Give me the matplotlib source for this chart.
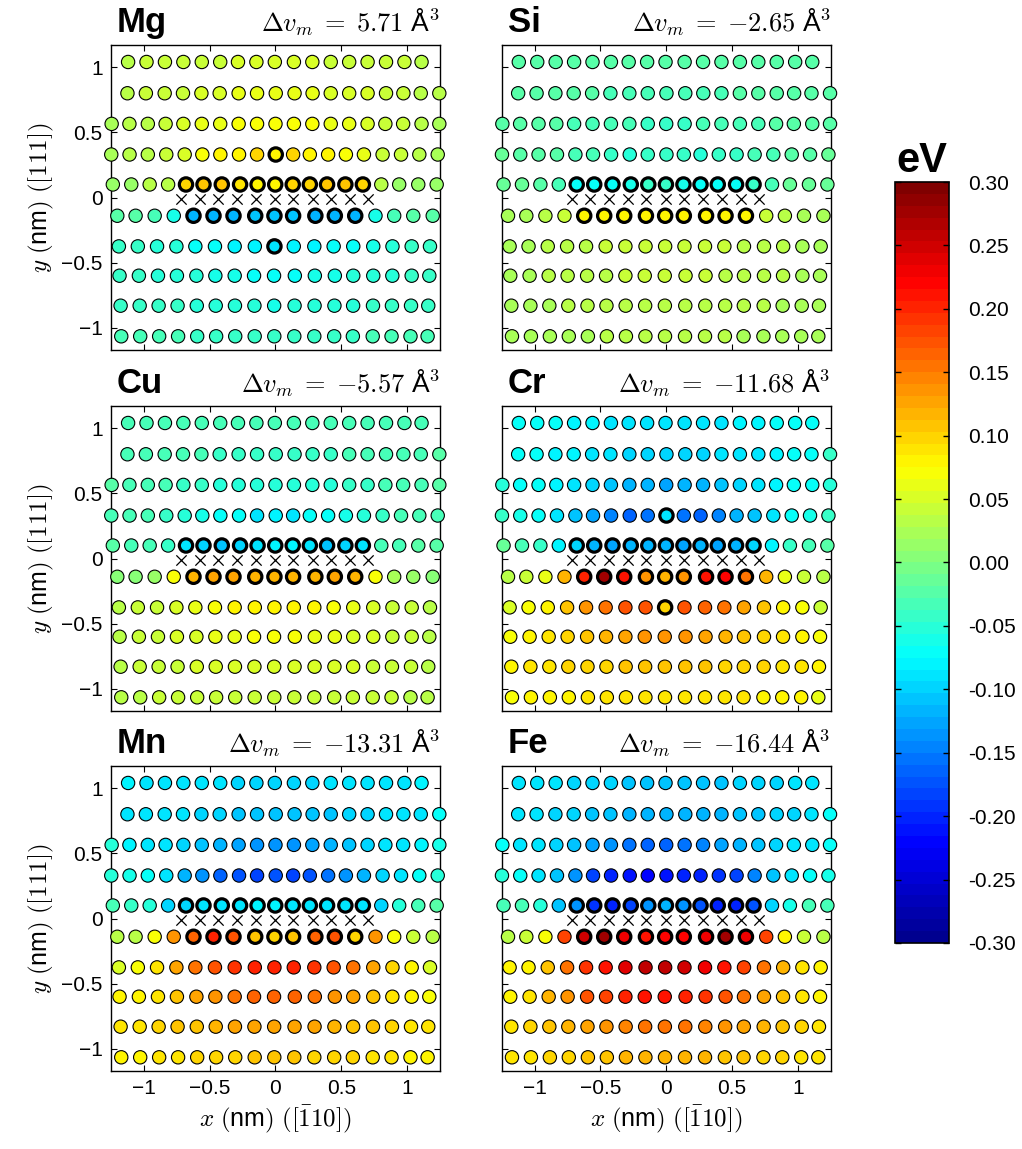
import numpy as np
import matplotlib
matplotlib.use("Agg")
from matplotlib import pyplot as plt
from matplotlib import ticker
from matplotlib.cm import ScalarMappable
from matplotlib.colors import Normalize, LinearSegmentedColormap

plt.rcParams['font.family'] = ['Liberation Sans', 'DejaVu Sans']
plt.rcParams['mathtext.fontset'] = 'cm'

# atom rows: heights (nm) and x positions (nm) along [-110]
row_y = [1.04, 0.80, 0.565, 0.33, 0.10, -0.14, -0.375, -0.60, -0.83, -1.065]
row_x = [
    [-1.12, -0.98, -0.84, -0.70, -0.56, -0.42, -0.285, -0.145, -0.005, 0.14, 0.28, 0.42, 0.56, 0.70, 0.84, 0.98, 1.11],
    [-1.125, -0.985, -0.842, -0.703, -0.563, -0.424, -0.28, -0.14, 0.002, 0.145, 0.282, 0.42, 0.56, 0.70, 0.84, 0.972, 1.104, 1.245],
    [-1.245, -1.11, -0.97, -0.835, -0.70, -0.56, -0.42, -0.28, -0.14, 0.0, 0.14, 0.28, 0.42, 0.56, 0.70, 0.835, 0.97, 1.11, 1.245],
    [-1.248, -1.109, -0.97, -0.83, -0.69, -0.556, -0.419, -0.277, -0.14, 0.002, 0.134, 0.261, 0.40, 0.535, 0.672, 0.814, 0.954, 1.093, 1.233],
    [-1.236, -1.096, -0.956, -0.816, -0.68, -0.547, -0.408, -0.269, -0.136, -0.002, 0.131, 0.261, 0.392, 0.531, 0.664, 0.804, 0.94, 1.085, 1.225],
    [-1.202, -1.063, -0.918, -0.773, -0.623, -0.471, -0.319, -0.154, -0.008, 0.134, 0.303, 0.451, 0.606, 0.76, 0.902, 1.047, 1.195],
    [-1.19, -1.046, -0.90, -0.753, -0.609, -0.46, -0.31, -0.157, -0.008, 0.139, 0.295, 0.442, 0.591, 0.743, 0.889, 1.035, 1.174],
    [-1.185, -1.038, -0.893, -0.749, -0.601, -0.457, -0.31, -0.163, -0.011, 0.147, 0.299, 0.451, 0.591, 0.743, 0.888, 1.035, 1.169],
    [-1.177, -1.032, -0.888, -0.744, -0.598, -0.454, -0.308, -0.16, -0.01, 0.145, 0.297, 0.448, 0.59, 0.741, 0.885, 1.03, 1.161],
    [-1.172, -1.028, -0.884, -0.74, -0.595, -0.451, -0.306, -0.158, -0.009, 0.143, 0.295, 0.446, 0.588, 0.739, 0.882, 1.026, 1.156],
]

# core sites (x markers)
core_x = [-0.715, -0.576, -0.437, -0.292, -0.150, -0.005, 0.134, 0.282, 0.421, 0.565, 0.705]
core_y = -0.01

solutes = ['Mg', 'Si', 'Cu', 'Cr', 'Mn', 'Fe']
dvm = ['5.71', '{-}2.65', '{-}5.57', '{-}11.68', '{-}13.31', '{-}16.44']

# binding energies (eV), one list per atom row
E_Mg = [
    [0.035, 0.04, 0.04, 0.04, 0.045, 0.045, 0.05, 0.05, 0.05, 0.05, 0.05, 0.045, 0.045, 0.04, 0.04, 0.04, 0.035],
    [0.035, 0.04, 0.04, 0.045, 0.05, 0.055, 0.06, 0.06, 0.06, 0.06, 0.06, 0.055, 0.055, 0.05, 0.045, 0.04, 0.035, 0.03],
    [0.025, 0.03, 0.035, 0.04, 0.05, 0.06, 0.065, 0.07, 0.07, 0.07, 0.07, 0.07, 0.065, 0.06, 0.05, 0.045, 0.04, 0.035, 0.025],
    [0.025, 0.03, 0.035, 0.04, 0.055, 0.07, 0.075, 0.075, 0.1, 0.08, 0.1, 0.075, 0.075, 0.07, 0.06, 0.045, 0.04, 0.03, 0.025],
    [0.01, 0.015, 0.03, 0.035, 0.1, 0.11, 0.105, 0.09, 0.08, 0.08, 0.095, 0.1, 0.11, 0.105, 0.1, 0.035, 0.015, 0.01, 0.01],
    [-0.02, -0.025, -0.03, -0.06, -0.115, -0.115, -0.12, -0.105, -0.105, -0.105, -0.115, -0.12, -0.115, -0.065, -0.03, -0.025, -0.02],
    [-0.04, -0.045, -0.05, -0.055, -0.07, -0.075, -0.08, -0.08, -0.09, -0.08, -0.08, -0.075, -0.07, -0.06, -0.05, -0.045, -0.04],
    [-0.04, -0.045, -0.05, -0.05, -0.055, -0.06, -0.065, -0.07, -0.075, -0.07, -0.065, -0.06, -0.055, -0.05, -0.05, -0.045, -0.04],
    [-0.04, -0.04, -0.045, -0.045, -0.05, -0.05, -0.055, -0.055, -0.06, -0.055, -0.055, -0.05, -0.05, -0.045, -0.045, -0.04, -0.04],
    [-0.03, -0.03, -0.035, -0.035, -0.04, -0.04, -0.04, -0.045, -0.045, -0.045, -0.04, -0.04, -0.04, -0.035, -0.035, -0.03, -0.03],
]
E_Si = [
    [-0.02, -0.02, -0.02, -0.02, -0.02, -0.025, -0.025, -0.025, -0.025, -0.025, -0.025, -0.025, -0.02, -0.02, -0.02, -0.02, -0.02],
    [-0.02, -0.02, -0.025, -0.025, -0.025, -0.03, -0.03, -0.03, -0.03, -0.03, -0.03, -0.03, -0.025, -0.025, -0.025, -0.02, -0.02, -0.02],
    [-0.02, -0.02, -0.02, -0.025, -0.03, -0.03, -0.035, -0.035, -0.04, -0.04, -0.04, -0.035, -0.035, -0.03, -0.03, -0.025, -0.02, -0.02, -0.02],
    [-0.015, -0.02, -0.02, -0.025, -0.03, -0.035, -0.04, -0.05, -0.045, -0.045, -0.04, -0.05, -0.045, -0.04, -0.035, -0.03, -0.025, -0.02, -0.015],
    [-0.01, -0.015, -0.02, -0.03, -0.07, -0.07, -0.07, -0.06, -0.04, -0.045, -0.06, -0.07, -0.07, -0.07, -0.045, -0.03, -0.015, -0.01, -0.01],
    [0.02, 0.025, 0.03, 0.04, 0.075, 0.075, 0.075, 0.08, 0.08, 0.08, 0.075, 0.075, 0.075, 0.04, 0.03, 0.025, 0.02],
    [0.02, 0.025, 0.03, 0.03, 0.035, 0.04, 0.045, 0.045, 0.045, 0.045, 0.045, 0.04, 0.035, 0.03, 0.03, 0.025, 0.02],
    [0.025, 0.025, 0.03, 0.03, 0.035, 0.035, 0.04, 0.04, 0.04, 0.04, 0.04, 0.035, 0.035, 0.03, 0.03, 0.025, 0.025],
    [0.025, 0.025, 0.025, 0.03, 0.03, 0.03, 0.035, 0.035, 0.035, 0.035, 0.035, 0.03, 0.03, 0.03, 0.025, 0.025, 0.025],
    [0.02, 0.02, 0.025, 0.025, 0.025, 0.03, 0.03, 0.03, 0.03, 0.03, 0.03, 0.03, 0.025, 0.025, 0.025, 0.02, 0.02],
]
E_Cu = [
    [-0.03, -0.03, -0.03, -0.03, -0.035, -0.035, -0.035, -0.035, -0.035, -0.035, -0.035, -0.035, -0.035, -0.03, -0.03, -0.03, -0.03],
    [-0.03, -0.03, -0.035, -0.035, -0.035, -0.04, -0.04, -0.04, -0.04, -0.04, -0.04, -0.04, -0.035, -0.035, -0.035, -0.03, -0.03, -0.025],
    [-0.025, -0.03, -0.03, -0.035, -0.04, -0.045, -0.05, -0.05, -0.055, -0.055, -0.055, -0.05, -0.05, -0.045, -0.04, -0.035, -0.03, -0.03, -0.025],
    [-0.03, -0.03, -0.035, -0.04, -0.05, -0.06, -0.075, -0.075, -0.09, -0.08, -0.085, -0.075, -0.075, -0.065, -0.055, -0.045, -0.035, -0.03, -0.03],
    [-0.02, -0.03, -0.035, -0.04, -0.09, -0.1, -0.11, -0.1, -0.09, -0.08, -0.08, -0.09, -0.11, -0.1, -0.09, -0.035, -0.03, -0.02, -0.02],
    [0.0, 0.005, 0.01, 0.07, 0.12, 0.125, 0.125, 0.115, 0.115, 0.115, 0.12, 0.125, 0.12, 0.07, 0.02, 0.01, 0.005],
    [0.035, 0.04, 0.045, 0.05, 0.06, 0.07, 0.075, 0.075, 0.075, 0.075, 0.075, 0.07, 0.06, 0.05, 0.045, 0.04, 0.035],
    [0.035, 0.04, 0.045, 0.05, 0.055, 0.06, 0.065, 0.07, 0.07, 0.07, 0.065, 0.06, 0.055, 0.05, 0.045, 0.04, 0.035],
    [0.035, 0.04, 0.04, 0.045, 0.05, 0.05, 0.055, 0.055, 0.055, 0.055, 0.055, 0.05, 0.05, 0.045, 0.04, 0.04, 0.035],
    [0.035, 0.035, 0.04, 0.04, 0.04, 0.045, 0.045, 0.045, 0.045, 0.045, 0.045, 0.045, 0.04, 0.04, 0.04, 0.035, 0.035],
]
E_Cr = [
    [-0.07, -0.075, -0.075, -0.08, -0.08, -0.085, -0.085, -0.085, -0.085, -0.085, -0.085, -0.085, -0.08, -0.08, -0.075, -0.075, -0.07],
    [-0.07, -0.075, -0.08, -0.08, -0.085, -0.09, -0.095, -0.095, -0.095, -0.095, -0.095, -0.09, -0.09, -0.085, -0.08, -0.075, -0.07, -0.045],
    [-0.05, -0.07, -0.075, -0.08, -0.09, -0.1, -0.11, -0.12, -0.12, -0.125, -0.12, -0.12, -0.11, -0.1, -0.09, -0.08, -0.075, -0.07, -0.05],
    [-0.045, -0.06, -0.075, -0.09, -0.11, -0.13, -0.15, -0.165, -0.155, -0.09, -0.155, -0.165, -0.145, -0.12, -0.105, -0.085, -0.075, -0.06, -0.045],
    [-0.015, -0.03, -0.04, -0.08, -0.1, -0.12, -0.13, -0.12, -0.12, -0.12, -0.13, -0.12, -0.13, -0.12, -0.1, -0.08, -0.045, -0.03, -0.02],
    [0.03, 0.04, 0.06, 0.12, 0.2, 0.28, 0.21, 0.14, 0.12, 0.14, 0.21, 0.22, 0.15, 0.12, 0.06, 0.04, 0.03],
    [0.05, 0.07, 0.075, 0.11, 0.14, 0.15, 0.17, 0.17, 0.1, 0.17, 0.165, 0.15, 0.13, 0.11, 0.08, 0.07, 0.045],
    [0.07, 0.08, 0.09, 0.1, 0.11, 0.12, 0.13, 0.135, 0.135, 0.135, 0.13, 0.12, 0.11, 0.1, 0.09, 0.08, 0.07],
    [0.08, 0.085, 0.09, 0.095, 0.1, 0.1, 0.105, 0.11, 0.11, 0.11, 0.105, 0.1, 0.1, 0.095, 0.09, 0.085, 0.08],
    [0.07, 0.075, 0.075, 0.08, 0.085, 0.085, 0.09, 0.09, 0.09, 0.09, 0.09, 0.085, 0.085, 0.08, 0.075, 0.075, 0.065],
]
E_Mn = [
    [-0.08, -0.085, -0.085, -0.085, -0.09, -0.09, -0.095, -0.095, -0.095, -0.095, -0.095, -0.09, -0.09, -0.09, -0.085, -0.085, -0.08],
    [-0.085, -0.085, -0.09, -0.09, -0.095, -0.1, -0.105, -0.105, -0.11, -0.11, -0.105, -0.105, -0.1, -0.095, -0.09, -0.09, -0.085, -0.075],
    [-0.055, -0.08, -0.085, -0.09, -0.1, -0.11, -0.12, -0.13, -0.135, -0.135, -0.135, -0.13, -0.12, -0.11, -0.1, -0.09, -0.085, -0.08, -0.06],
    [-0.05, -0.06, -0.075, -0.09, -0.12, -0.14, -0.16, -0.17, -0.18, -0.175, -0.18, -0.17, -0.155, -0.135, -0.115, -0.095, -0.085, -0.07, -0.05],
    [-0.03, -0.04, -0.05, -0.1, -0.1, -0.09, -0.09, -0.09, -0.08, -0.08, -0.085, -0.09, -0.09, -0.09, -0.09, -0.1, -0.05, -0.03, -0.025],
    [0.03, 0.035, 0.07, 0.14, 0.16, 0.2, 0.17, 0.11, 0.1, 0.11, 0.16, 0.17, 0.1, 0.14, 0.07, 0.04, 0.03],
    [0.05, 0.07, 0.09, 0.13, 0.15, 0.17, 0.19, 0.2, 0.2, 0.2, 0.19, 0.17, 0.15, 0.13, 0.1, 0.08, 0.05],
    [0.075, 0.08, 0.09, 0.11, 0.13, 0.14, 0.15, 0.16, 0.16, 0.16, 0.15, 0.14, 0.13, 0.11, 0.09, 0.08, 0.07],
    [0.085, 0.09, 0.1, 0.105, 0.11, 0.12, 0.125, 0.13, 0.13, 0.13, 0.125, 0.12, 0.11, 0.105, 0.1, 0.09, 0.085],
    [0.075, 0.08, 0.085, 0.09, 0.095, 0.1, 0.1, 0.105, 0.105, 0.105, 0.1, 0.1, 0.095, 0.09, 0.085, 0.08, 0.075],
]
E_Fe = [
    [-0.085, -0.09, -0.09, -0.095, -0.1, -0.1, -0.105, -0.11, -0.11, -0.11, -0.105, -0.105, -0.1, -0.1, -0.095, -0.09, -0.09],
    [-0.085, -0.09, -0.095, -0.1, -0.105, -0.11, -0.115, -0.12, -0.12, -0.12, -0.115, -0.115, -0.11, -0.105, -0.1, -0.095, -0.085, -0.075],
    [-0.075, -0.085, -0.09, -0.1, -0.11, -0.125, -0.14, -0.155, -0.16, -0.16, -0.155, -0.145, -0.13, -0.12, -0.11, -0.1, -0.09, -0.085, -0.075],
    [-0.055, -0.075, -0.09, -0.11, -0.14, -0.18, -0.2, -0.21, -0.22, -0.21, -0.2, -0.2, -0.19, -0.18, -0.15, -0.11, -0.085, -0.075, -0.06],
    [-0.03, -0.035, -0.055, -0.11, -0.14, -0.19, -0.2, -0.18, -0.14, -0.12, -0.14, -0.17, -0.2, -0.2, -0.17, -0.1, -0.06, -0.035, -0.03],
    [0.03, 0.04, 0.07, 0.18, 0.25, 0.28, 0.23, 0.21, 0.22, 0.22, 0.23, 0.28, 0.23, 0.18, 0.075, 0.045, 0.035],
    [0.075, 0.08, 0.11, 0.15, 0.19, 0.21, 0.24, 0.26, 0.26, 0.25, 0.23, 0.21, 0.18, 0.15, 0.12, 0.085, 0.075],
    [0.075, 0.09, 0.12, 0.14, 0.17, 0.18, 0.2, 0.21, 0.21, 0.2, 0.19, 0.17, 0.15, 0.13, 0.11, 0.09, 0.075],
    [0.09, 0.1, 0.11, 0.12, 0.13, 0.14, 0.145, 0.15, 0.15, 0.15, 0.145, 0.14, 0.13, 0.12, 0.11, 0.1, 0.09],
    [0.085, 0.09, 0.095, 0.1, 0.105, 0.11, 0.115, 0.12, 0.12, 0.12, 0.115, 0.11, 0.105, 0.1, 0.095, 0.09, 0.085],
]
energies = [E_Mg, E_Si, E_Cu, E_Cr, E_Mn, E_Fe]

# bold-rimmed sites: (row, first index, last index)
bold_core = [(4, 4, 14), (5, 4, 12)]
bold_extra = {'Mg': [(3, 9, 9), (6, 8, 8)], 'Cr': [(3, 9, 9), (6, 8, 8)]}

# MATLAB-style jet, 64 levels
jet_pts = [(0.0, (0, 0, 0.5625)), (0.125, (0, 0, 1)), (0.375, (0, 1, 1)),
           (0.625, (1, 1, 0)), (0.875, (1, 0, 0)), (1.0, (0.5, 0, 0))]
cmap = LinearSegmentedColormap.from_list('mjet', jet_pts, N=64)
norm = Normalize(-0.3, 0.3)

fig = plt.figure(figsize=(10.22, 11.49), dpi=100)
lefts = [0.1086, 0.4909]
bottoms = [0.6954, 0.3812, 0.0679]
W, H = 0.3219, 0.2654

minus = lambda v, pos: ('%g' % v).replace('-', '\u2212')

for k, name in enumerate(solutes):
    r, c = divmod(k, 2)
    ax = fig.add_axes([lefts[c], bottoms[r], W, H])
    E = energies[k]
    bold = bold_core + bold_extra.get(name, [])
    for i, (y, xs) in enumerate(zip(row_y, row_x)):
        lw = np.full(len(xs), 0.8)
        for (rr, a, b) in bold:
            if rr == i:
                lw[a:b + 1] = 2.3
        ax.scatter(xs, [y] * len(xs), c=E[i], cmap=cmap, norm=norm, s=92,
                   edgecolors='k', linewidths=lw, clip_on=False, zorder=3)
    ax.scatter(core_x, [core_y] * len(core_x), marker='x', c='k', s=55,
               linewidths=0.9, zorder=3)
    ax.set_xlim(-1.25, 1.25)
    ax.set_ylim(-1.17, 1.17)
    ax.set_xticks([-1, -0.5, 0, 0.5, 1])
    ax.set_yticks([-1, -0.5, 0, 0.5, 1])
    ax.xaxis.set_major_formatter(ticker.FuncFormatter(minus))
    ax.yaxis.set_major_formatter(ticker.FuncFormatter(minus))
    ax.tick_params(direction='in', top=True, right=True, length=4, width=0.8,
                   labelsize=15, pad=6)
    if c == 1:
        ax.tick_params(labelleft=False)
    else:
        ax.set_ylabel(r'$y$ $($nm$)$ $([111])$', fontsize=18, labelpad=4)
    if r < 2:
        ax.tick_params(labelbottom=False)
    else:
        ax.set_xlabel(r'$x$ $($nm$)$ $([\bar{1}10])$', fontsize=18, labelpad=4)
    for s in ax.spines.values():
        s.set_linewidth(1.0)
    ax.text(0.018, 1.044, name, transform=ax.transAxes, fontsize=25,
            fontweight='bold', ha='left', va='baseline')
    ax.text(1.0, 1.044, r'$\Delta v_m\;=\;%s$ Å$^3$' % dvm[k],
            transform=ax.transAxes, fontsize=19, ha='right', va='baseline')

cax = fig.add_axes([0.8757, 0.1793, 0.0528, 0.6623])
cb = fig.colorbar(ScalarMappable(norm=norm, cmap=cmap), cax=cax)
cb.set_ticks([-0.3, -0.25, -0.2, -0.15, -0.1, -0.05, 0.0, 0.05, 0.1, 0.15, 0.2, 0.25, 0.3])
cb.ax.yaxis.set_major_formatter(ticker.FormatStrFormatter('%.2f'))
cb.ax.tick_params(direction='in', left=True, right=True, length=4, width=1.0,
                  labelsize=15, pad=14)
cb.outline.set_linewidth(1.2)
cb.ax.text(0.5, 1.013, 'eV', transform=cb.ax.transAxes, fontsize=30,
           fontweight='bold', ha='center', va='baseline')

fig.savefig('out.png', dpi=100)
